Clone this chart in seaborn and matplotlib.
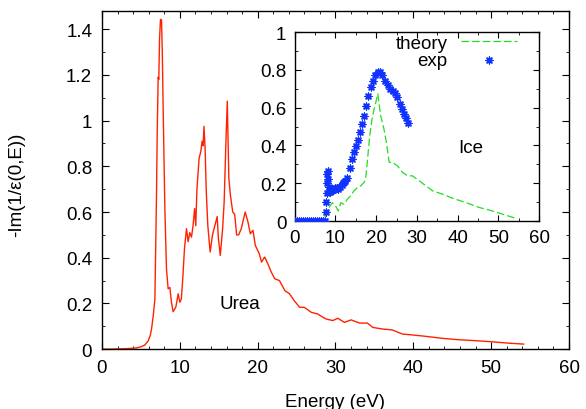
import pandas as pd
import matplotlib
matplotlib.use("Agg")
import matplotlib.pyplot as plt
import seaborn as sns
from matplotlib.ticker import MultipleLocator

# Urea loss function (main panel)
urea_energy = [0, 1, 2, 3, 4, 4.5, 5.0, 5.5, 5.94, 6.2, 6.37, 6.6, 6.8, 7.0, 7.1, 7.22,
               7.3, 7.4, 7.52, 7.65, 7.75, 7.86, 8.08, 8.29, 8.5, 8.72, 8.93, 9.14,
               9.49, 9.79, 10.0, 10.2, 10.4, 10.6, 10.86, 11.07, 11.28, 11.5, 11.7,
               11.9, 12.05, 12.2, 12.48, 12.7, 12.86, 13.0, 13.1, 13.25, 13.4, 13.6,
               13.9, 14.2, 14.5, 14.8, 14.96, 15.2, 15.5, 15.7, 15.9, 16.1, 16.3, 16.5,
               16.8, 17.05, 17.3, 17.56, 17.9, 18.1, 18.4, 18.75, 19.06, 19.4, 19.7,
               20.2, 20.5, 20.9, 21.3, 21.75, 22.2, 22.8, 23.5, 24.1, 24.7, 25.4, 26.0,
               26.9, 27.7, 28.4, 28.8, 29.65, 30.3, 31.15, 32.0, 33.1, 34.1, 34.8,
               36.06, 37.3, 38.6, 39.9, 41.6, 43.8, 45.9, 48.0, 50.2, 52.3, 54.2]
urea_loss = [0, 0, 0.001, 0.002, 0.004, 0.006, 0.01, 0.018, 0.036, 0.06, 0.088, 0.15,
             0.22, 0.66, 0.95, 1.19, 1.18, 1.36, 1.443, 1.44, 1.30, 1.055, 0.615, 0.35,
             0.264, 0.27, 0.205, 0.164, 0.184, 0.242, 0.205, 0.22, 0.32, 0.44, 0.527,
             0.47, 0.51, 0.49, 0.54, 0.615, 0.54, 0.70, 0.835, 0.865, 0.91, 0.89, 0.975,
             0.88, 0.69, 0.54, 0.425, 0.50, 0.54, 0.58, 0.483, 0.41, 0.527, 0.645, 0.88,
             1.085, 0.747, 0.674, 0.60, 0.59, 0.50, 0.50, 0.527, 0.557, 0.60, 0.557,
             0.505, 0.52, 0.454, 0.418, 0.381, 0.403, 0.374, 0.337, 0.308, 0.30, 0.256,
             0.242, 0.212, 0.183, 0.183, 0.161, 0.154, 0.139, 0.132, 0.125, 0.135,
             0.117, 0.128, 0.114, 0.114, 0.095, 0.088, 0.084, 0.066, 0.062, 0.056,
             0.047, 0.041, 0.037, 0.032, 0.026, 0.022]

# Ice: theory (inset)
ice_theory_energy = [0, 4, 7, 7.6, 8.0, 8.4, 9.2, 10.0, 10.7, 11.3, 12.1, 12.9, 13.7,
                     14.5, 15.4, 16.2, 17.0, 17.4, 17.8, 18.4, 19.1, 19.9, 20.4, 20.7,
                     21.1, 21.9, 22.5, 23.2, 24.0, 25.2, 26.5, 27.7, 28.9, 30.6, 32.2,
                     33.9, 36.3, 38.8, 42.1, 45.4, 48.6, 51.9, 54.4]
ice_theory_loss = [0, 0, 0.005, 0.03, 0.062, 0.071, 0.097, 0.08, 0.053, 0.097, 0.088,
                   0.115, 0.133, 0.159, 0.177, 0.186, 0.204, 0.221, 0.31, 0.45, 0.557,
                   0.628, 0.673, 0.62, 0.557, 0.487, 0.416, 0.31, 0.31, 0.292, 0.257,
                   0.239, 0.239, 0.212, 0.186, 0.159, 0.142, 0.12, 0.097, 0.071, 0.053,
                   0.03, 0.014]

# Ice: experiment (inset)
ice_exp_energy = [0, 0.5, 1, 1.5, 2, 2.5, 3, 3.5, 4, 4.5, 5, 5.5, 6, 6.5, 7, 7.5,
                  7.6, 7.7, 7.8, 7.9, 8.0, 8.1, 8.2, 8.3, 8.4, 8.6, 8.8, 9.0, 9.2, 9.4,
                  9.6, 9.8, 10.0, 10.3, 10.6, 10.9, 11.2, 11.5, 11.8, 12.1, 12.4, 12.9,
                  13.5, 13.97, 14.5, 15.1, 15.6, 16.0, 16.4, 17.0, 17.4, 18.1, 18.7,
                  19.1, 19.7, 20.4, 20.95, 21.5, 22.2, 22.8, 23.4, 24.0, 24.65, 25.2,
                  25.8, 26.3, 26.9, 27.4, 27.9]
ice_exp_loss = [0, 0, 0, 0, 0, 0, 0, 0, 0, 0, 0, 0, 0, 0, 0, 0,
                0.05, 0.1, 0.15, 0.2, 0.25, 0.265, 0.22, 0.18, 0.16, 0.155, 0.165, 0.16,
                0.17, 0.165, 0.17, 0.175, 0.17, 0.175, 0.17, 0.18, 0.18, 0.19, 0.2,
                0.205, 0.21, 0.23, 0.283, 0.327, 0.363, 0.395, 0.43, 0.469, 0.513,
                0.557, 0.61, 0.664, 0.708, 0.743, 0.77, 0.79, 0.788, 0.77, 0.743, 0.717,
                0.70, 0.69, 0.678, 0.655, 0.62, 0.593, 0.566, 0.543, 0.519]

urea_df = pd.DataFrame({'E': urea_energy, 'loss': urea_loss})
theory_df = pd.DataFrame({'E': ice_theory_energy, 'loss': ice_theory_loss})
exp_df = pd.DataFrame({'E': ice_exp_energy, 'loss': ice_exp_loss})

FS = 13.5

sns.set_style("ticks")
plt.rcParams['font.family'] = ['Liberation Sans', 'DejaVu Sans']
plt.rcParams['font.size'] = FS
plt.rcParams['text.color'] = 'black'
plt.rcParams['axes.labelcolor'] = 'black'
plt.rcParams['xtick.color'] = 'black'
plt.rcParams['ytick.color'] = 'black'

fig = plt.figure(figsize=(5.86, 4.10), dpi=100)

# Main panel
ax = fig.add_axes([0.174, 0.146, 0.797, 0.825])
sns.lineplot(data=urea_df, x='E', y='loss', ax=ax, color='#ff2200', lw=1.0)
ax.set_xlim(0, 60)
ax.set_ylim(0, 1.48)
ax.xaxis.set_major_locator(MultipleLocator(10))
ax.xaxis.set_minor_locator(MultipleLocator(2))
ax.set_yticks([0, 0.2, 0.4, 0.6, 0.8, 1.0, 1.2, 1.4])
ax.set_yticklabels(['0', '0.2', '0.4', '0.6', '0.8', '1', '1.2', '1.4'])
ax.yaxis.set_minor_locator(MultipleLocator(0.1))
ax.tick_params(which='both', direction='in', top=True, right=True, labelsize=FS)
ax.tick_params(which='major', length=5, pad=7)
ax.tick_params(which='minor', length=2.5)
ax.set_xlabel('Energy (eV)', fontsize=FS)
ax.set_ylabel('-Im(1/ε(0,E))', fontsize=FS)
ax.xaxis.set_label_coords(0.499, -0.131)
ax.yaxis.set_label_coords(-0.165, 0.49)
for s in ax.spines.values():
    s.set_linewidth(1.0)
    s.set_color('black')
ax.text(17.7, 0.2, 'Urea', ha='center', va='center', fontsize=FS)

# Inset panel
axi = fig.add_axes([0.503, 0.4585, 0.417, 0.461])
axi.set_facecolor('white')
sns.lineplot(data=theory_df, x='E', y='loss', ax=axi, color='#22dd22', lw=0.9,
             label='theory')
axi.lines[0].set_dashes((6, 2.5))
sns.scatterplot(data=exp_df, x='E', y='loss', ax=axi, color='#1133ff',
                marker=(8, 2, 0), s=24, linewidth=1.0, label='exp', zorder=3)
axi.set_xlim(0, 60)
axi.set_ylim(0, 1)
axi.xaxis.set_major_locator(MultipleLocator(10))
axi.xaxis.set_minor_locator(MultipleLocator(5))
axi.set_yticks([0, 0.2, 0.4, 0.6, 0.8, 1.0])
axi.set_yticklabels(['0', '0.2', '0.4', '0.6', '0.8', '1'])
axi.yaxis.set_minor_locator(MultipleLocator(0.1))
axi.tick_params(which='both', direction='in', top=True, right=True, labelsize=FS)
axi.tick_params(which='major', length=4, pad=6)
axi.tick_params(which='minor', length=2)
axi.set_xlabel('')
axi.set_ylabel('')
for s in axi.spines.values():
    s.set_linewidth(1.0)
    s.set_color('black')
axi.text(43.3, 0.39, 'Ice', ha='center', va='center', fontsize=FS)
leg = axi.legend(loc='upper right', bbox_to_anchor=(0.91, 0.985), frameon=False,
                 markerfirst=False, handlelength=3.0, handletextpad=0.7, borderpad=0,
                 borderaxespad=0, labelspacing=0.0, fontsize=FS, scatterpoints=1)

fig.savefig('out.png', dpi=100)
